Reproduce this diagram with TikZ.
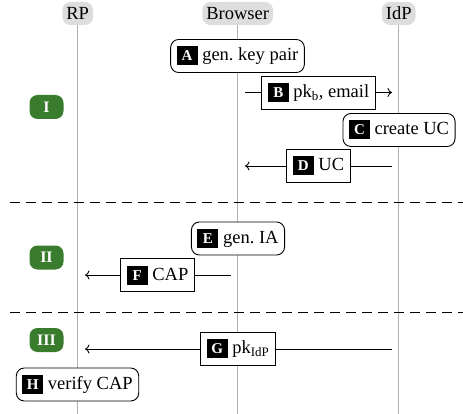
\documentclass[tikz,border=0pt]{standalone}
\usepackage{fontspec}
\setmainfont{Liberation Serif}
\usetikzlibrary{arrows.meta}
\definecolor{lifegray}{RGB}{178,178,178}
\definecolor{headgray}{RGB}{221,221,221}
\definecolor{phasegreen}{RGB}{58,124,46}
% black step tag with a white bold letter
\newcommand\steptag[1]{{\setlength\fboxsep{0pt}\colorbox{black}{\rule[-4.5pt]{0pt}{19pt}\makebox[21pt]{\textcolor{white}{\fontsize{15}{15}\selectfont\bfseries #1}}}}}
\begin{document}
\begin{tikzpicture}[x=1pt,y=-1pt,
  every node/.style={font=\fontsize{18.5}{22}\selectfont},
  party/.style={fill=headgray,rounded corners=8pt,inner xsep=4pt,minimum height=23pt},
  lifeline/.style={draw=lifegray,line width=1.5pt},
  action/.style={draw,line width=0.9pt,fill=white,rounded corners=8pt,inner xsep=6pt,inner ysep=7pt},
  message/.style={draw,line width=0.9pt,fill=white,inner xsep=6pt,inner ysep=7pt},
  msgline/.style={line width=0.9pt,-{To[length=4.5pt,width=9pt]}},
  phase/.style={fill=phasegreen,text=white,rounded corners=8pt,minimum width=34pt,minimum height=24pt,inner sep=0pt,font=\fontsize{16}{16}\selectfont\bfseries},
  divider/.style={line width=0.9pt,dash pattern=on 10pt off 6pt}]
\useasboundingbox (0,0) rectangle (463,414);

% participants and lifelines
\node[party] (rp) at (77.7,13.5) {RP};
\node[party] (br) at (237.7,13.5) {Browser};
\node[party] (idp) at (398.7,13.5) {IdP};
\coordinate (rpEnd) at (77.7,414);
\coordinate (brEnd) at (237.7,414);
\coordinate (idpEnd) at (398.7,414);
\draw[lifeline] (rp.south) -- (rpEnd);
\draw[lifeline] (br.south) -- (brEnd);
\draw[lifeline] (idp.south) -- (idpEnd);

% phase separators
\coordinate (d1a) at (10,202);  \coordinate (d1b) at (463,202);
\coordinate (d2a) at (10,312);  \coordinate (d2b) at (463,312);
\draw[divider] (d1a) -- (d1b);
\draw[divider] (d2a) -- (d2b);

% message end points
\coordinate (bS) at (245,92.5);  \coordinate (bE) at (392,92.5);
\coordinate (dS) at (392,166);   \coordinate (dE) at (245,166);
\coordinate (fS) at (231,275);   \coordinate (fE) at (85,275);
\coordinate (gS) at (392,349);   \coordinate (gE) at (85,349);
\draw[msgline] (bS) -- (bE);
\draw[msgline] (dS) -- (dE);
\draw[msgline] (fS) -- (fE);
\draw[msgline] (gS) -- (gE);

% phase I
\node[phase] (p1) at (46.5,107) {I};
\node[action] (A) at (237.5,56) {\steptag{A} gen.\ key pair};
\node[message] (B) at (318.5,92.5) {\steptag{B} pk$_{\mathrm{b}}$, email};
\node[action] (C) at (399,130) {\steptag{C} create UC};
\node[message] (D) at (318.5,165.5) {\steptag{D} UC};

% phase II
\node[phase] (p2) at (46.5,257.5) {II};
\node[action] (E) at (238,238.5) {\steptag{E} gen.\ IA};
\node[message] (F) at (157.5,275) {\steptag{F} CAP};

% phase III
\node[phase] (p3) at (46.5,340) {III};
\node[message] (G) at (238,348.5) {\steptag{G} pk$_{\mathrm{IdP}}$};
\node[action] (H) at (77.5,384.5) {\steptag{H} verify CAP};
\end{tikzpicture}
\end{document}
